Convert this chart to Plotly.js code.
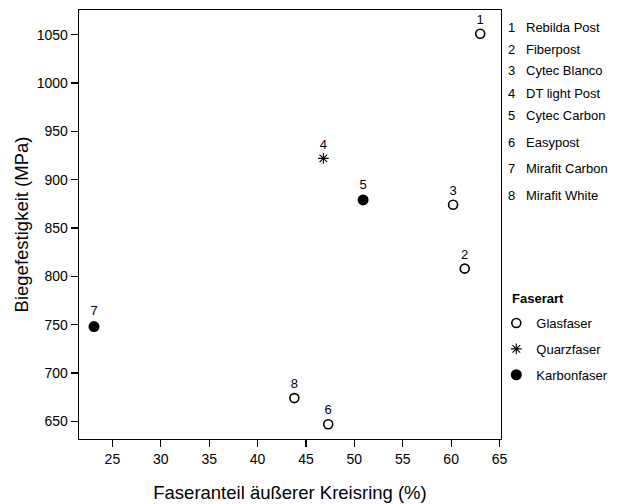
<!DOCTYPE html>
<html><head><meta charset="utf-8">
<script src="https://cdn.plot.ly/plotly-3.0.1.min.js"></script>
<style>html,body{margin:0;padding:0;background:#fff}#c{width:623px;height:504px}</style>
</head><body><div id="c"></div>
<script>
const ids = ["1","2","3","4","5","6","7","8"];
const names = ["Rebilda Post","Fiberpost","Cytec Blanco","DT light Post","Cytec Carbon","Easypost","Mirafit Carbon","Mirafit White"];
const faseranteil = [63.0, 61.4, 60.2, 46.8, 50.9, 47.3, 23.1, 43.8];
const biegefestigkeit = [1051, 808, 874, 922, 879, 647, 748, 674];
const faserart = ["Glasfaser","Glasfaser","Glasfaser","Quarzfaser","Karbonfaser","Glasfaser","Karbonfaser","Glasfaser"];
const types = ["Glasfaser","Quarzfaser","Karbonfaser"];
const xTicks = [25,30,35,40,45,50,55,60,65];
const yTicks = [650,700,750,800,850,900,950,1000,1050];

const markerStyles = {
  "Glasfaser": {symbol:"circle-open", size:9, color:"#000", line:{width:1.6, color:"#000"}},
  "Quarzfaser": {symbol:"asterisk-open", size:9, color:"#000", line:{width:1.1, color:"#000"}},
  "Karbonfaser": {symbol:"circle", size:11, color:"#000", line:{width:0}}
};

const font = "Liberation Sans, Arial, sans-serif";
const traces = types.map((t, k) => {
  const idx = faserart.map((f,i)=> f===t ? i : -1).filter(i=>i>=0);
  return {
    type:"scatter", mode:"markers+text", name:t,
    x: idx.map(i=>faseranteil[i]), y: idx.map(i=>biegefestigkeit[i]),
    text: idx.map(i=>ids[i]), textposition:"top center",
    textfont:{family:font, size:13, color:"#000"},
    marker: markerStyles[t], legendgroup:"g"+k, cliponaxis:false,
    hoverinfo:"x+y"
  };
});

const W = 421.7, H = 429;
const px = v => (v - 79) / W;
const py = v => (439 - v) / H;
const listY = [27.3, 49.3, 71, 93.3, 115.7, 142.7, 168.3, 195];
const annotations = [];
ids.forEach((id,i)=>{
  annotations.push({xref:"paper", yref:"paper", x:px(506), y:py(listY[i]), xanchor:"left", yanchor:"middle",
    showarrow:false, text:id, font:{family:font, size:13, color:"#000"}});
  annotations.push({xref:"paper", yref:"paper", x:px(524), y:py(listY[i]), xanchor:"left", yanchor:"middle",
    showarrow:false, text:names[i], font:{family:font, size:13, color:"#000"}});
});
annotations.push({xref:"paper", yref:"paper", x:px(510), y:py(298), xanchor:"left", yanchor:"middle",
  showarrow:false, text:"<b>Faserart</b>", font:{family:font, size:13, color:"#000"}});

const layout = {
  width:623, height:504,
  margin:{l:79, r:122, t:10, b:65},
  paper_bgcolor:"#fff", plot_bgcolor:"#fff",
  font:{family:font, size:14, color:"#000"},
  showlegend:true,
  legend:{
    xref:"paper", yref:"paper",
    x:px(496), xanchor:"left", y:py(308), yanchor:"top",
    bgcolor:"rgba(0,0,0,0)", borderwidth:0, font:{family:font, size:13, color:"#000"},
    tracegroupgap:6, itemwidth:30
  },
  xaxis:{
    range:[21.55, 65.15], tickvals:xTicks, ticktext:xTicks.map(String),
    showgrid:false, zeroline:false, showline:true, mirror:true, linecolor:"#000", linewidth:1.3,
    ticks:"outside", ticklen:7, tickwidth:1.3, tickcolor:"#000",
    tickfont:{family:font, size:14, color:"#000"},
    title:{text:"Faseranteil äußerer Kreisring (%)", font:{family:font, size:18.5, color:"#000"}, standoff:20}
  },
  yaxis:{
    range:[631.7, 1075.5], tickvals:yTicks, ticktext:yTicks.map(String),
    showgrid:false, zeroline:false, showline:true, mirror:true, linecolor:"#000", linewidth:1.3,
    ticks:"outside", ticklen:7, tickwidth:1.3, tickcolor:"#000",
    tickfont:{family:font, size:14, color:"#000"},
    title:{text:"Biegefestigkeit (MPa)", font:{family:font, size:18.5, color:"#000"}, standoff:3}
  },
  annotations: annotations
};

Plotly.newPlot("c", traces, layout, {displayModeBar:false, staticPlot:true});
</script></body></html>
